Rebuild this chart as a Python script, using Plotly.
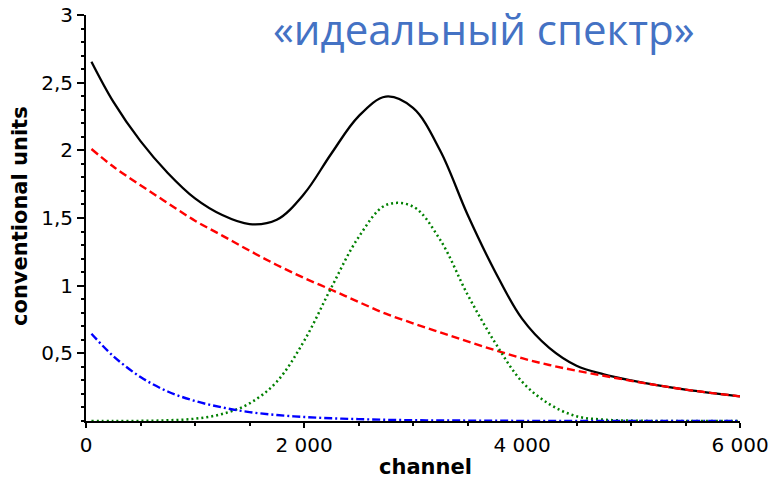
import plotly.graph_objects as go

# Channel grid of the tabulated spectrum components
channel = [50, 250, 500, 750, 1000, 1250, 1500, 1750, 2000, 2250, 2500, 2750,
           3000, 3250, 3500, 3750, 4000, 4250, 4500, 4750, 5000, 5250, 5500,
           5750, 6000]

# Smooth background (red dashed)
background = [2.01, 1.88, 1.742, 1.61, 1.48, 1.37, 1.259, 1.153, 1.057, 0.970,
              0.880, 0.793, 0.722, 0.655, 0.588, 0.524, 0.464, 0.414, 0.372,
              0.334, 0.297, 0.263, 0.232, 0.206, 0.182]

# Photopeak (green dotted)
peak = [0.0, 0.0, 0.001, 0.005, 0.017, 0.052, 0.13, 0.29, 0.59, 0.985, 1.357,
        1.595, 1.585, 1.338, 0.935, 0.583, 0.291, 0.125, 0.035, 0.010, 0.003,
        0.0, 0.0, 0.0, 0.0]

# Low-energy component (blue dash-dot)
low_energy = [0.645, 0.48, 0.325, 0.218, 0.148, 0.100, 0.066, 0.044, 0.030,
              0.020, 0.014, 0.009, 0.006, 0.004, 0.003, 0.002, 0.001, 0.001,
              0.001, 0.001, 0.0, 0.0, 0.0, 0.0, 0.0]

# Total spectrum is the sum of the components (black solid)
total = [b + p + l for b, p, l in zip(background, peak, low_energy)]

x_tick_vals = [0, 2000, 4000, 6000]
x_tick_text = ["0", "2 000", "4 000", "6 000"]
y_tick_vals = [0.5, 1, 1.5, 2, 2.5, 3]
y_tick_text = ["0,5", "1", "1,5", "2", "2,5", "3"]

title_text = "«идеальный спектр»"
x_title = "channel"
y_title = "conventional units"

fig = go.Figure()

fig.add_trace(go.Scatter(x=channel, y=total, mode="lines",
                         line=dict(color="black", width=2.3, shape="spline")))
fig.add_trace(go.Scatter(x=channel, y=background, mode="lines",
                         line=dict(color="#FF0000", width=2.4, shape="spline",
                                   dash="8px,4px")))
fig.add_trace(go.Scatter(x=channel, y=peak, mode="lines",
                         line=dict(color="#008000", width=2.5, shape="spline",
                                   dash="2px,3px")))
fig.add_trace(go.Scatter(x=channel, y=low_energy, mode="lines",
                         line=dict(color="#0000FF", width=2.4, shape="spline",
                                   dash="8px,3px,2px,3px")))

tick_font = dict(family="DejaVu Sans", size=20, color="black")

fig.update_layout(
    width=775, height=485,
    margin=dict(l=86, r=35, t=15, b=64),
    paper_bgcolor="white", plot_bgcolor="white",
    showlegend=False,
    xaxis=dict(
        range=[0, 6000], tickmode="array", tickvals=x_tick_vals,
        ticktext=x_tick_text, ticks="outside", ticklen=5, tickwidth=2,
        tickcolor="black", showline=True, linecolor="black", linewidth=2,
        showgrid=False, zeroline=False, tickfont=tick_font, automargin=False,
        minor=dict(dtick=500, tick0=0, ticks="outside", ticklen=3,
                   tickwidth=1.5, tickcolor="black", showgrid=False),
    ),
    yaxis=dict(
        range=[0, 3], tickmode="array", tickvals=y_tick_vals,
        ticktext=y_tick_text, ticks="outside", ticklen=7, tickwidth=2,
        tickcolor="black", showline=True, linecolor="black", linewidth=2,
        showgrid=False, zeroline=False, tickfont=tick_font, automargin=False,
        minor=dict(dtick=0.1, tick0=0, ticks="outside", ticklen=3,
                   tickwidth=1.5, tickcolor="black", showgrid=False),
    ),
    annotations=[
        dict(text=title_text, xref="paper", yref="paper", x=0.934, y=0.967,
             xanchor="right", yanchor="middle", showarrow=False,
             font=dict(family="Open Sans", size=42, color="#4472C4")),
        dict(text=x_title, xref="paper", yref="paper", x=0.5186, y=-0.1125,
             xanchor="center", yanchor="middle", showarrow=False,
             font=dict(family="DejaVu Sans", size=21, color="black",
                       weight="bold")),
        dict(text=y_title, xref="paper", yref="paper", x=-0.1, y=0.504,
             xanchor="center", yanchor="middle", showarrow=False,
             textangle=-90,
             font=dict(family="DejaVu Sans", size=21, color="black",
                       weight="bold")),
    ],
)

fig.write_html("out.html")
